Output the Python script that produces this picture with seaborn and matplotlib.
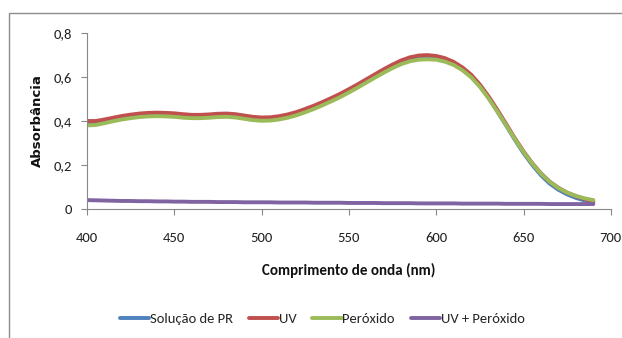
"""
Absorbance spectra of the PR solution under UV / peroxide treatments.
"""

import numpy as np
import pandas as pd
import seaborn as sns
import matplotlib.pyplot as plt
from matplotlib.patches import Rectangle

# wavelengths (nm), every 5 nm
wavelength = list(range(400, 695, 5))

# absorbance
solucao_pr = [0.388, 0.390, 0.398, 0.406, 0.414, 0.420, 0.425, 0.428, 0.429, 0.428,
              0.426, 0.422, 0.420, 0.420, 0.422, 0.425, 0.426, 0.423, 0.417, 0.411,
              0.408, 0.409, 0.414, 0.422, 0.433, 0.447, 0.462, 0.479, 0.497, 0.516,
              0.537, 0.559, 0.582, 0.605, 0.628, 0.649, 0.667, 0.681, 0.689, 0.691,
              0.688, 0.678, 0.662, 0.637, 0.604, 0.559, 0.505, 0.444, 0.380, 0.315,
              0.254, 0.200, 0.153, 0.115, 0.087, 0.066, 0.050, 0.038, 0.028]
uv = [0.400, 0.400, 0.407, 0.415, 0.423, 0.429, 0.434, 0.437, 0.438, 0.437,
      0.435, 0.431, 0.428, 0.428, 0.430, 0.433, 0.434, 0.431, 0.425, 0.419,
      0.416, 0.417, 0.422, 0.430, 0.441, 0.455, 0.470, 0.487, 0.505, 0.524,
      0.545, 0.567, 0.590, 0.613, 0.636, 0.657, 0.676, 0.690, 0.698, 0.700,
      0.696, 0.686, 0.669, 0.644, 0.611, 0.566, 0.512, 0.451, 0.387, 0.322,
      0.262, 0.208, 0.162, 0.124, 0.096, 0.074, 0.058, 0.045, 0.035]
peroxido = [0.380, 0.382, 0.390, 0.399, 0.407, 0.413, 0.418, 0.421, 0.422, 0.421,
            0.419, 0.415, 0.413, 0.413, 0.415, 0.418, 0.419, 0.416, 0.410, 0.404,
            0.401, 0.402, 0.407, 0.415, 0.426, 0.440, 0.455, 0.472, 0.490, 0.509,
            0.530, 0.552, 0.575, 0.598, 0.620, 0.641, 0.659, 0.672, 0.679, 0.681,
            0.679, 0.670, 0.655, 0.631, 0.599, 0.556, 0.503, 0.443, 0.381, 0.318,
            0.259, 0.206, 0.160, 0.123, 0.095, 0.074, 0.059, 0.048, 0.040]
uv_peroxido = [0.040, 0.039, 0.038, 0.037, 0.036, 0.036, 0.035, 0.035, 0.034, 0.034,
               0.033, 0.033, 0.032, 0.032, 0.032, 0.031, 0.031, 0.031, 0.030, 0.030,
               0.030, 0.030, 0.029, 0.029, 0.029, 0.029, 0.028, 0.028, 0.028, 0.028,
               0.027, 0.027, 0.027, 0.027, 0.026, 0.026, 0.026, 0.026, 0.025, 0.025,
               0.025, 0.025, 0.025, 0.024, 0.024, 0.024, 0.024, 0.024, 0.023, 0.023,
               0.023, 0.023, 0.023, 0.022, 0.022, 0.022, 0.022, 0.022, 0.022]

series_names = ["Solução de PR", "UV", "Peróxido", "UV + Peróxido"]
colors = ["#4F81BD", "#C0504D", "#9BBB59", "#8064A2"]

df = pd.DataFrame({"nm": wavelength * 4,
                   "abs": solucao_pr + uv + peroxido + uv_peroxido,
                   "serie": np.repeat(series_names, len(wavelength))})

sns.set_style("white")
plt.rcParams["font.family"] = ["Carlito", "DejaVu Sans"]

fig = plt.figure(figsize=(6.22, 3.38), dpi=100)
ax = fig.add_axes([0.140, 0.382, 0.842, 0.520])

sns.lineplot(data=df, x="nm", y="abs", hue="serie", hue_order=series_names,
             palette=colors, linewidth=2.8, ax=ax, legend=False)

ax.set_xlim(400, 700)
ax.set_ylim(0, 0.8)
ax.set_xticks([400, 450, 500, 550, 600, 650, 700])
ax.set_yticks([0, 0.2, 0.4, 0.6, 0.8])
ax.set_yticklabels(["0", "0,2", "0,4", "0,6", "0,8"])
ax.tick_params(labelsize=10.5, colors="#888888", labelcolor="#222222", length=4,
               width=0.8, direction="out", left=True, bottom=True)
ax.tick_params(axis="x", pad=13)
ax.tick_params(axis="y", pad=7)

for s in ["top", "right"]:
    ax.spines[s].set_visible(False)
for s in ["left", "bottom"]:
    ax.spines[s].set_color("#888888")
    ax.spines[s].set_linewidth(0.8)

ax.set_xlabel("Comprimento de onda (nm)", fontsize=10.8, fontweight="bold",
              color="#111111", labelpad=13)
ax.set_ylabel("Absorbância", fontsize=9.5, fontweight="bold", family="DejaVu Sans",
              color="#111111", labelpad=7)

handles = [plt.Line2D([], [], color=c, linewidth=2.8) for c in colors]
fig.legend(handles, series_names, loc="center", bbox_to_anchor=(0.518, 0.056),
           ncol=4, frameon=False, fontsize=10.5, handlelength=2.0,
           handletextpad=0.05, columnspacing=1.1)

# outer chart frame
fig.patches.append(Rectangle((9 / 622, -0.1), 1.1, 1 - 13 / 338 + 0.1,
                             transform=fig.transFigure, fill=False,
                             edgecolor="#8c8c8c", linewidth=1.0))

fig.savefig("out.png", dpi=100)
